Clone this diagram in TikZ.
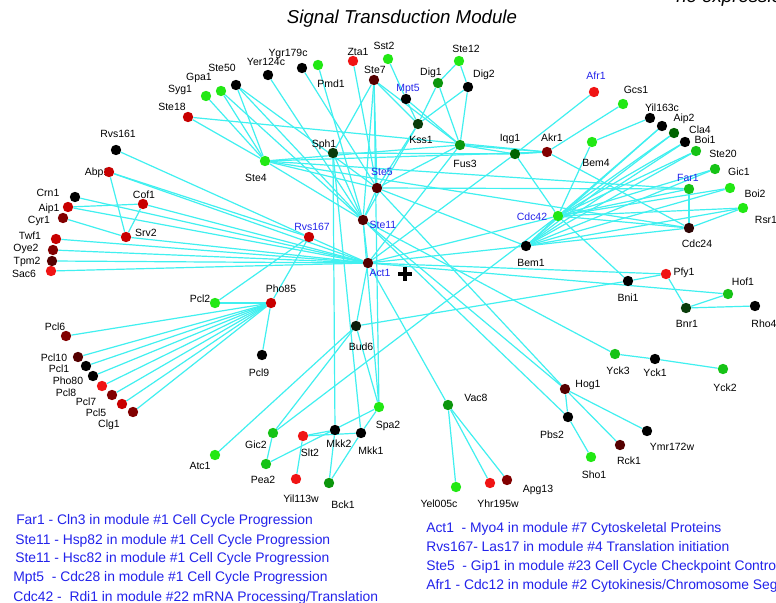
\documentclass[tikz,border=0pt]{standalone}
\usepackage{fontspec}
\setmainfont{Liberation Sans}
\usetikzlibrary{backgrounds}
\definecolor{lg}{RGB}{34,232,20}
\definecolor{mg}{RGB}{22,195,22}
\definecolor{gg}{RGB}{12,150,12}
\definecolor{dg}{RGB}{0,100,0}
\definecolor{vdg}{RGB}{10,60,10}
\definecolor{bk}{RGB}{0,0,0}
\definecolor{rd}{RGB}{240,20,20}
\definecolor{mr}{RGB}{200,0,0}
\definecolor{dr}{RGB}{130,0,0}
\definecolor{vdr}{RGB}{85,0,0}
\definecolor{xdr}{RGB}{45,5,5}
\definecolor{xdk}{RGB}{12,30,12}
\definecolor{cyanline}{RGB}{64,240,240}
\definecolor{lblue}{RGB}{35,35,235}
\newcommand{\pn}[6]{%
  \node[lab,text=#6] (#1l) at (#4) {#5};
  \node[dot,fill=#2] (#1) at (#3) {};}
\begin{document}
\begin{tikzpicture}[x=0.75pt,y=-0.75pt,
  dot/.style={circle,inner sep=0pt,minimum size=7.8pt,draw=none},
  lab/.style={inner sep=0pt,font=\fontsize{7.85}{9}\selectfont,text height=0.716em,text depth=0pt},
  edge/.style={draw=cyanline,line width=0.9pt},
  legend/.style={anchor=west,inner sep=0pt,text=lblue,font=\fontsize{10.4}{12}\selectfont,text height=0.716em,text depth=0pt},
  ttl/.style={inner sep=0pt,font=\fontsize{14}{16}\selectfont\itshape,text height=0.716em,text depth=0pt}]
\useasboundingbox (0,0) rectangle (776,603);
\begin{pgfonlayer}{background}
\fill[white] (0,0) rectangle (776,603);
\end{pgfonlayer}

\node[ttl] (title) at (402,19) {Signal Transduction Module};
\node[ttl,anchor=base west] (cut) at (676,2.5) {ne expression};

% nodes: name, colour, position, label position, text, text colour
\pn{Syg1}{lg}{206,96}{180,88}{Syg1}{black}
\pn{Gpa1}{lg}{221,91}{199,76}{Gpa1}{black}
\pn{Ste50}{bk}{236,85}{222,67}{Ste50}{black}
\pn{Yer124c}{bk}{268,75}{266,61}{Yer124c}{black}
\pn{Ygr179c}{bk}{302,68}{288,52}{Ygr179c}{black}
\pn{Pmd1}{lg}{318,65}{331,83}{Pmd1}{black}
\pn{Zta1}{rd}{353,61}{358,51}{Zta1}{black}
\pn{Sst2}{lg}{388,59}{384,45}{Sst2}{black}
\pn{Ste7}{vdr}{374,80}{375,69}{Ste7}{black}
\pn{Mpt5}{bk}{406,99}{408,87}{Mpt5}{lblue}
\pn{Dig1}{gg}{438,83}{431,71}{Dig1}{black}
\pn{Ste12}{lg}{459,61}{466,48}{Ste12}{black}
\pn{Dig2}{bk}{468,87}{484,73}{Dig2}{black}
\pn{Kss1}{vdg}{418,124}{421,139}{Kss1}{black}
\pn{Fus3}{gg}{460,145}{465,163}{Fus3}{black}
\pn{Sph1}{vdg}{333,153}{324,143}{Sph1}{black}
\pn{Ste4}{lg}{265,161}{256,177}{Ste4}{black}
\pn{Ste18}{mr}{188,117}{172,106}{Ste18}{black}
\pn{Rvs161}{bk}{116,150}{118,133}{Rvs161}{black}
\pn{Abp1}{mr}{109,172}{97,171}{Abp1}{black}
\pn{Crn1}{bk}{75,197}{48,192}{Crn1}{black}
\pn{Aip1}{mr}{68,207}{49,207}{Aip1}{black}
\pn{Cyr1}{dr}{63,218}{39,219}{Cyr1}{black}
\pn{Cof1}{mr}{143,204}{144,194}{Cof1}{black}
\pn{Srv2}{mr}{126,237}{146,232}{Srv2}{black}
\pn{Twf1}{mr}{56,239}{30,235}{Twf1}{black}
\pn{Oye2}{dr}{53,250}{26,247}{Oye2}{black}
\pn{Tpm2}{vdr}{52,261}{27,260}{Tpm2}{black}
\pn{Sac6}{rd}{51,271}{24,273}{Sac6}{black}
\pn{Ste5}{vdr}{377,188}{382,171}{Ste5}{lblue}
\pn{Ste11}{vdr}{363,220}{383,224}{Ste11}{lblue}
\pn{Rvs167}{mr}{309,237}{312,226}{Rvs167}{lblue}
\pn{Act1}{vdr}{368,263}{380,272}{Act1}{lblue}
\pn{Pcl2}{lg}{215,303}{200,298}{Pcl2}{black}
\pn{Pho85}{mr}{271,303}{281,288}{Pho85}{black}
\pn{Pcl9}{bk}{262,355}{259,372}{Pcl9}{black}
\pn{Bud6}{xdk}{356,326}{361,346}{Bud6}{black}
\pn{Pcl6}{dr}{66,336}{55,326}{Pcl6}{black}
\pn{Pcl10}{vdr}{78,357}{54,357}{Pcl10}{black}
\pn{Pcl1}{bk}{86,366}{59,368}{Pcl1}{black}
\pn{Pho80}{bk}{93,376}{68,380}{Pho80}{black}
\pn{Pcl8}{rd}{102,386}{66,392}{Pcl8}{black}
\pn{Pcl7}{dr}{112,395}{86,401}{Pcl7}{black}
\pn{Pcl5}{mr}{122,404}{96,412}{Pcl5}{black}
\pn{Clg1}{dr}{133,412}{109,423}{Clg1}{black}
\pn{Atc1}{lg}{215,455}{200,465}{Atc1}{black}
\pn{Gic2}{mg}{273,433}{256,444}{Gic2}{black}
\pn{Pea2}{mg}{266,464}{263,479}{Pea2}{black}
\pn{Slt2}{rd}{303,436}{310,452}{Slt2}{black}
\pn{Mkk2}{bk}{335,430}{339,443}{Mkk2}{black}
\pn{Mkk1}{bk}{361,433}{371,450}{Mkk1}{black}
\pn{Spa2}{lg}{379,407}{388,424}{Spa2}{black}
\pn{Yil113w}{rd}{296,479}{301,498}{Yil113w}{black}
\pn{Bck1}{gg}{329,483}{343,504}{Bck1}{black}
\pn{Vac8}{gg}{448,405}{476,397}{Vac8}{black}
\pn{Yel005c}{lg}{456,487}{439,503}{Yel005c}{black}
\pn{Yhr195w}{rd}{490,483}{498,503}{Yhr195w}{black}
\pn{Apg13}{dr}{507,480}{538,488}{Apg13}{black}
\pn{Hog1}{vdr}{565,389}{588,383}{Hog1}{black}
\pn{Pbs2}{bk}{568,417}{552,434}{Pbs2}{black}
\pn{Sho1}{lg}{591,457}{594,474}{Sho1}{black}
\pn{Rck1}{vdr}{620,445}{629,460}{Rck1}{black}
\pn{Ymr172w}{bk}{647,431}{672,446}{Ymr172w}{black}
\pn{Yck3}{mg}{615,354}{618,370}{Yck3}{black}
\pn{Yck1}{bk}{655,359}{655,372}{Yck1}{black}
\pn{Yck2}{mg}{723,369}{725,387}{Yck2}{black}
\pn{Bni1}{bk}{628,281}{628,297}{Bni1}{black}
\pn{Pfy1}{rd}{666,274}{684,271}{Pfy1}{black}
\pn{Hof1}{mg}{728,294}{743,281}{Hof1}{black}
\pn{Bnr1}{vdg}{686,308}{687,323}{Bnr1}{black}
\pn{Rho4}{bk}{755,306}{764,323}{Rho4}{black}
\pn{Bem1}{bk}{526,246}{531,262}{Bem1}{black}
\pn{Cdc42}{lg}{558,216}{532,216}{Cdc42}{lblue}
\pn{Cdc24}{xdr}{689,228}{697,243}{Cdc24}{black}
\pn{Rsr1}{lg}{743,208}{766,219}{Rsr1}{black}
\pn{Boi2}{lg}{730,188}{755,193}{Boi2}{black}
\pn{Far1}{mg}{689,189}{688,177}{Far1}{lblue}
\pn{Gic1}{mg}{715,169}{739,171}{Gic1}{black}
\pn{Ste20}{mg}{696,151}{723,153}{Ste20}{black}
\pn{Boi1}{bk}{685,142}{705,139}{Boi1}{black}
\pn{Cla4}{dg}{674,133}{700,129}{Cla4}{black}
\pn{Aip2}{bk}{662,126}{684,117}{Aip2}{black}
\pn{Yil163c}{bk}{650,118}{662,107}{Yil163c}{black}
\pn{Gcs1}{lg}{623,104}{636,89}{Gcs1}{black}
\pn{Afr1}{rd}{594,92}{596,75}{Afr1}{lblue}
\pn{Bem4}{lg}{592,142}{596,162}{Bem4}{black}
\pn{Akr1}{dr}{547,152}{552,137}{Akr1}{black}
\pn{Iqg1}{dg}{515,154}{510,137}{Iqg1}{black}

% plus mark
\coordinate (pc) at (405,274);
\draw[line width=2.3pt] ([xshift=-5.2pt]pc) -- ([xshift=5.2pt]pc) ([yshift=-5.2pt]pc) -- ([yshift=5.2pt]pc);

\begin{pgfonlayer}{background}
\foreach \a/\b in {Syg1/Ste4,Gpa1/Ste4,Gpa1/Ste11,Ste50/Ste4,Ste50/Ste11,Ste50/Ste5,
  Ste18/Ste4,Ste18/Akr1,Yer124c/Ste11,Ygr179c/Ste5,Pmd1/Ste11,Zta1/Ste5,
  Ste7/Sph1,Ste7/Ste5,Ste7/Ste11,Ste7/Kss1,Ste7/Fus3,Ste7/Spa2,
  Sst2/Mpt5,Mpt5/Kss1,Mpt5/Fus3,Dig1/Ste12,Dig2/Ste12,Dig1/Kss1,Dig1/Fus3,Dig2/Kss1,Dig2/Fus3,
  Kss1/Ste5,Kss1/Ste11,Fus3/Ste5,Fus3/Iqg1,Fus3/Akr1,Fus3/Act1,
  Sph1/Ste11,Sph1/Mkk1,Sph1/Mkk2,Sph1/Iqg1,
  Ste4/Ste5,Ste4/Ste11,Ste4/Fus3,Ste4/Akr1,Ste4/Far1,Ste4/Cdc24,
  Ste5/Ste11,Ste5/Bem1,Ste5/Far1,Ste5/Hog1,
  Ste11/Pbs2,Ste11/Yck3,Ste11/Hog1,Ste11/Spa2,Ste11/Act1,
  Act1/Abp1,Act1/Crn1,Act1/Aip1,Act1/Cof1,Act1/Srv2,Act1/Twf1,Act1/Oye2,Act1/Tpm2,Act1/Sac6,
  Act1/Rvs167,Act1/Bud6,Act1/Vac8,Act1/Bem1,Act1/Pfy1,Act1/Hof1,Act1/Cdc42,Act1/Iqg1,
  Rvs161/Rvs167,Abp1/Rvs167,Abp1/Srv2,Aip1/Cof1,Cof1/Srv2,Cyr1/Srv2,
  Pho85/Pcl2,Pho85/Pcl9,Pho85/Pcl6,Pho85/Pcl10,Pho85/Pcl1,Pho85/Pho80,Pho85/Pcl8,Pho85/Pcl7,
  Pho85/Pcl5,Pho85/Clg1,Pho85/Rvs167,Pcl2/Rvs167,
  Atc1/Bud6,Gic2/Pea2,Gic2/Bud6,Gic2/Cdc42,Pea2/Spa2,Bud6/Spa2,Bud6/Bni1,
  Spa2/Mkk1,Mkk2/Slt2,Mkk1/Slt2,Mkk2/Bck1,Mkk1/Bck1,Slt2/Yil113w,
  Vac8/Yel005c,Vac8/Yhr195w,Vac8/Apg13,
  Hog1/Pbs2,Hog1/Rck1,Hog1/Ymr172w,Pbs2/Sho1,Yck3/Yck1,Yck1/Yck2,
  Bni1/Pfy1,Bni1/Cdc42,Pfy1/Bnr1,Bnr1/Hof1,Bnr1/Rho4,
  Afr1/Iqg1,Gcs1/Akr1,Bem4/Yil163c,Bem4/Cdc42,Iqg1/Akr1,Iqg1/Cdc42,Akr1/Cdc24,
  Cdc42/Aip2,Cdc42/Cla4,Cdc42/Boi1,Cdc42/Ste20,Cdc42/Gic1,Cdc42/Far1,Cdc42/Boi2,Cdc42/Rsr1,
  Cdc42/Cdc24,Cdc42/Bem1,
  Bem1/Aip2,Bem1/Cla4,Bem1/Boi1,Bem1/Ste20,Bem1/Gic1,Bem1/Boi2,Bem1/Rsr1,Bem1/Cdc24,
  Far1/Cdc24,Rsr1/Cdc24}
  \draw[edge] (\a) -- (\b);
\end{pgfonlayer}

% legend
\node[legend] (lg1) at (16,520) {Far1 - Cln3 in module \#1 Cell Cycle Progression};
\node[legend] (lg2) at (15,540) {Ste11 - Hsp82 in module \#1 Cell Cycle Progression};
\node[legend] (lg3) at (15,558) {Ste11 - Hsc82 in module \#1 Cell Cycle Progression};
\node[legend] (lg4) at (13,577) {Mpt5 \ - Cdc28 in module \#1 Cell Cycle Progression};
\node[legend] (lg5) at (13,597) {Cdc42 - \ Rdi1 in module \#22 mRNA Processing/Translation};
\node[legend] (lg6) at (426,528) {Act1 \ - Myo4 in module \#7 Cytoskeletal Proteins};
\node[legend] (lg7) at (426,547) {Rvs167- Las17 in module \#4 Translation initiation};
\node[legend] (lg8) at (426,566) {Ste5 \ - Gip1 in module \#23 Cell Cycle Checkpoint Control};
\node[legend] (lg9) at (426,585) {Afr1 - Cdc12 in module \#2 Cytokinesis/Chromosome Segregation};
\end{tikzpicture}
\end{document}
